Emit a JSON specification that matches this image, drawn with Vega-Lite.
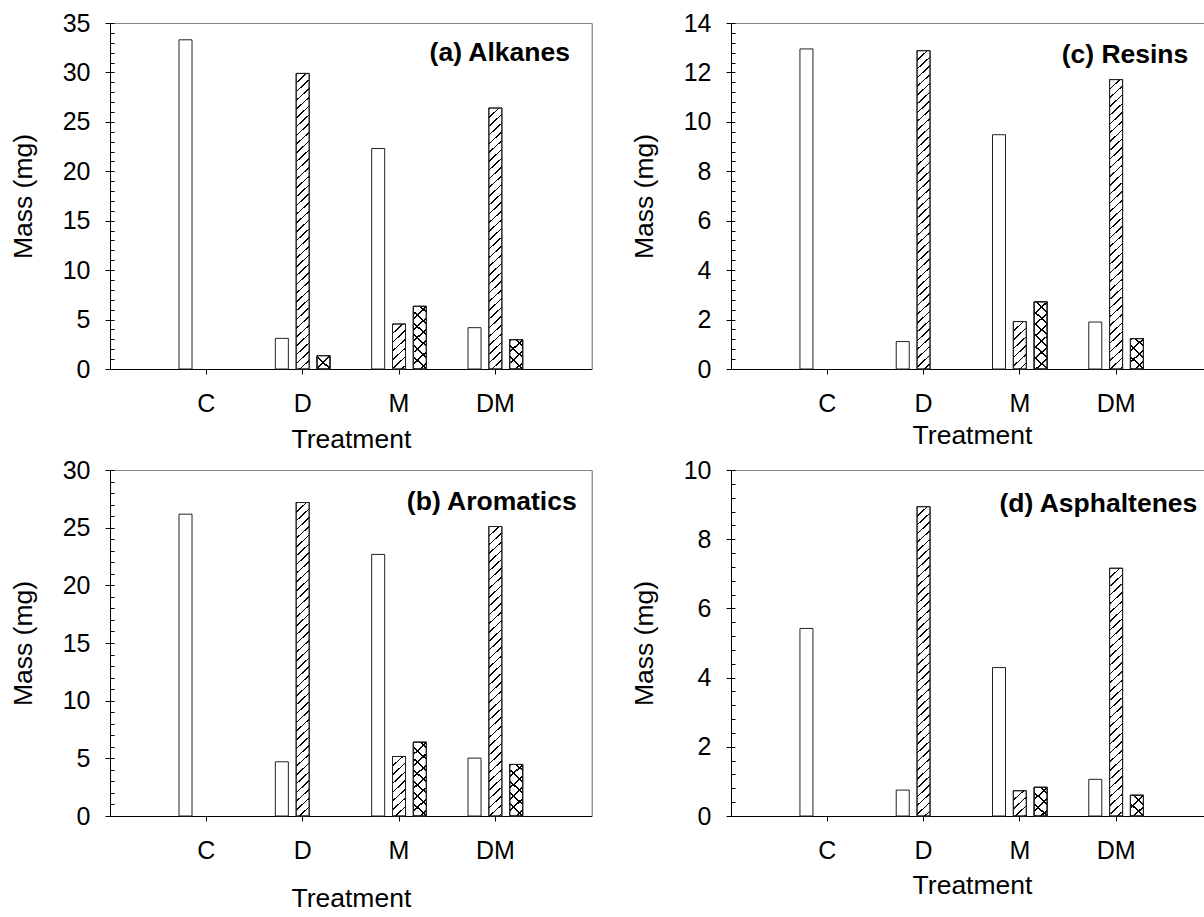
{
  "$schema": "https://vega.github.io/schema/vega-lite/v6.json",
  "background": "white",
  "padding": {"left": 10, "top": 11, "right": 0, "bottom": 0},
  "config": {
    "font": "Liberation Sans",
    "view": {"stroke": null},
    "axis": {"grid": false, "domainColor": "black", "tickColor": "black", "labelColor": "black", "titleColor": "black", "titleFontWeight": "normal", "domainWidth": 1, "tickWidth": 1},
    "title": {"color": "black"}
  },
  "params": [
    {"name": "hatchStops", "value": [
      {"offset":0,"color":"#000"},{"offset":0.0035,"color":"#000"},{"offset":0.0035,"color":"rgba(0,0,0,0)"},{"offset":0.02,"color":"rgba(0,0,0,0)"},
      {"offset":0.02,"color":"#000"},{"offset":0.0235,"color":"#000"},{"offset":0.0235,"color":"rgba(0,0,0,0)"},{"offset":0.04,"color":"rgba(0,0,0,0)"},
      {"offset":0.04,"color":"#000"},{"offset":0.0435,"color":"#000"},{"offset":0.0435,"color":"rgba(0,0,0,0)"},{"offset":0.06,"color":"rgba(0,0,0,0)"},
      {"offset":0.06,"color":"#000"},{"offset":0.0635,"color":"#000"},{"offset":0.0635,"color":"rgba(0,0,0,0)"},{"offset":0.08,"color":"rgba(0,0,0,0)"},
      {"offset":0.08,"color":"#000"},{"offset":0.0835,"color":"#000"},{"offset":0.0835,"color":"rgba(0,0,0,0)"},{"offset":0.1,"color":"rgba(0,0,0,0)"},
      {"offset":0.1,"color":"#000"},{"offset":0.1035,"color":"#000"},{"offset":0.1035,"color":"rgba(0,0,0,0)"},{"offset":0.12,"color":"rgba(0,0,0,0)"},
      {"offset":0.12,"color":"#000"},{"offset":0.1235,"color":"#000"},{"offset":0.1235,"color":"rgba(0,0,0,0)"},{"offset":0.14,"color":"rgba(0,0,0,0)"},
      {"offset":0.14,"color":"#000"},{"offset":0.1435,"color":"#000"},{"offset":0.1435,"color":"rgba(0,0,0,0)"},{"offset":0.16,"color":"rgba(0,0,0,0)"},
      {"offset":0.16,"color":"#000"},{"offset":0.1635,"color":"#000"},{"offset":0.1635,"color":"rgba(0,0,0,0)"},{"offset":0.18,"color":"rgba(0,0,0,0)"},
      {"offset":0.18,"color":"#000"},{"offset":0.1835,"color":"#000"},{"offset":0.1835,"color":"rgba(0,0,0,0)"},{"offset":0.2,"color":"rgba(0,0,0,0)"},
      {"offset":0.2,"color":"#000"},{"offset":0.2035,"color":"#000"},{"offset":0.2035,"color":"rgba(0,0,0,0)"},{"offset":0.22,"color":"rgba(0,0,0,0)"},
      {"offset":0.22,"color":"#000"},{"offset":0.2235,"color":"#000"},{"offset":0.2235,"color":"rgba(0,0,0,0)"},{"offset":0.24,"color":"rgba(0,0,0,0)"},
      {"offset":0.24,"color":"#000"},{"offset":0.2435,"color":"#000"},{"offset":0.2435,"color":"rgba(0,0,0,0)"},{"offset":0.26,"color":"rgba(0,0,0,0)"},
      {"offset":0.26,"color":"#000"},{"offset":0.2635,"color":"#000"},{"offset":0.2635,"color":"rgba(0,0,0,0)"},{"offset":0.28,"color":"rgba(0,0,0,0)"},
      {"offset":0.28,"color":"#000"},{"offset":0.2835,"color":"#000"},{"offset":0.2835,"color":"rgba(0,0,0,0)"},{"offset":0.3,"color":"rgba(0,0,0,0)"},
      {"offset":0.3,"color":"#000"},{"offset":0.3035,"color":"#000"},{"offset":0.3035,"color":"rgba(0,0,0,0)"},{"offset":0.32,"color":"rgba(0,0,0,0)"},
      {"offset":0.32,"color":"#000"},{"offset":0.3235,"color":"#000"},{"offset":0.3235,"color":"rgba(0,0,0,0)"},{"offset":0.34,"color":"rgba(0,0,0,0)"},
      {"offset":0.34,"color":"#000"},{"offset":0.3435,"color":"#000"},{"offset":0.3435,"color":"rgba(0,0,0,0)"},{"offset":0.36,"color":"rgba(0,0,0,0)"},
      {"offset":0.36,"color":"#000"},{"offset":0.3635,"color":"#000"},{"offset":0.3635,"color":"rgba(0,0,0,0)"},{"offset":0.38,"color":"rgba(0,0,0,0)"},
      {"offset":0.38,"color":"#000"},{"offset":0.3835,"color":"#000"},{"offset":0.3835,"color":"rgba(0,0,0,0)"},{"offset":0.4,"color":"rgba(0,0,0,0)"},
      {"offset":0.4,"color":"#000"},{"offset":0.4035,"color":"#000"},{"offset":0.4035,"color":"rgba(0,0,0,0)"},{"offset":0.42,"color":"rgba(0,0,0,0)"},
      {"offset":0.42,"color":"#000"},{"offset":0.4235,"color":"#000"},{"offset":0.4235,"color":"rgba(0,0,0,0)"},{"offset":0.44,"color":"rgba(0,0,0,0)"},
      {"offset":0.44,"color":"#000"},{"offset":0.4435,"color":"#000"},{"offset":0.4435,"color":"rgba(0,0,0,0)"},{"offset":0.46,"color":"rgba(0,0,0,0)"},
      {"offset":0.46,"color":"#000"},{"offset":0.4635,"color":"#000"},{"offset":0.4635,"color":"rgba(0,0,0,0)"},{"offset":0.48,"color":"rgba(0,0,0,0)"},
      {"offset":0.48,"color":"#000"},{"offset":0.4835,"color":"#000"},{"offset":0.4835,"color":"rgba(0,0,0,0)"},{"offset":0.5,"color":"rgba(0,0,0,0)"},
      {"offset":0.5,"color":"#000"},{"offset":0.5035,"color":"#000"},{"offset":0.5035,"color":"rgba(0,0,0,0)"},{"offset":0.52,"color":"rgba(0,0,0,0)"},
      {"offset":0.52,"color":"#000"},{"offset":0.5235,"color":"#000"},{"offset":0.5235,"color":"rgba(0,0,0,0)"},{"offset":0.54,"color":"rgba(0,0,0,0)"},
      {"offset":0.54,"color":"#000"},{"offset":0.5435,"color":"#000"},{"offset":0.5435,"color":"rgba(0,0,0,0)"},{"offset":0.56,"color":"rgba(0,0,0,0)"},
      {"offset":0.56,"color":"#000"},{"offset":0.5635,"color":"#000"},{"offset":0.5635,"color":"rgba(0,0,0,0)"},{"offset":0.58,"color":"rgba(0,0,0,0)"},
      {"offset":0.58,"color":"#000"},{"offset":0.5835,"color":"#000"},{"offset":0.5835,"color":"rgba(0,0,0,0)"},{"offset":0.6,"color":"rgba(0,0,0,0)"},
      {"offset":0.6,"color":"#000"},{"offset":0.6035,"color":"#000"},{"offset":0.6035,"color":"rgba(0,0,0,0)"},{"offset":0.62,"color":"rgba(0,0,0,0)"},
      {"offset":0.62,"color":"#000"},{"offset":0.6235,"color":"#000"},{"offset":0.6235,"color":"rgba(0,0,0,0)"},{"offset":0.64,"color":"rgba(0,0,0,0)"},
      {"offset":0.64,"color":"#000"},{"offset":0.6435,"color":"#000"},{"offset":0.6435,"color":"rgba(0,0,0,0)"},{"offset":0.66,"color":"rgba(0,0,0,0)"},
      {"offset":0.66,"color":"#000"},{"offset":0.6635,"color":"#000"},{"offset":0.6635,"color":"rgba(0,0,0,0)"},{"offset":0.68,"color":"rgba(0,0,0,0)"},
      {"offset":0.68,"color":"#000"},{"offset":0.6835,"color":"#000"},{"offset":0.6835,"color":"rgba(0,0,0,0)"},{"offset":0.7,"color":"rgba(0,0,0,0)"},
      {"offset":0.7,"color":"#000"},{"offset":0.7035,"color":"#000"},{"offset":0.7035,"color":"rgba(0,0,0,0)"},{"offset":0.72,"color":"rgba(0,0,0,0)"},
      {"offset":0.72,"color":"#000"},{"offset":0.7235,"color":"#000"},{"offset":0.7235,"color":"rgba(0,0,0,0)"},{"offset":0.74,"color":"rgba(0,0,0,0)"},
      {"offset":0.74,"color":"#000"},{"offset":0.7435,"color":"#000"},{"offset":0.7435,"color":"rgba(0,0,0,0)"},{"offset":0.76,"color":"rgba(0,0,0,0)"},
      {"offset":0.76,"color":"#000"},{"offset":0.7635,"color":"#000"},{"offset":0.7635,"color":"rgba(0,0,0,0)"},{"offset":0.78,"color":"rgba(0,0,0,0)"},
      {"offset":0.78,"color":"#000"},{"offset":0.7835,"color":"#000"},{"offset":0.7835,"color":"rgba(0,0,0,0)"},{"offset":0.8,"color":"rgba(0,0,0,0)"},
      {"offset":0.8,"color":"#000"},{"offset":0.8035,"color":"#000"},{"offset":0.8035,"color":"rgba(0,0,0,0)"},{"offset":0.82,"color":"rgba(0,0,0,0)"},
      {"offset":0.82,"color":"#000"},{"offset":0.8235,"color":"#000"},{"offset":0.8235,"color":"rgba(0,0,0,0)"},{"offset":0.84,"color":"rgba(0,0,0,0)"},
      {"offset":0.84,"color":"#000"},{"offset":0.8435,"color":"#000"},{"offset":0.8435,"color":"rgba(0,0,0,0)"},{"offset":0.86,"color":"rgba(0,0,0,0)"},
      {"offset":0.86,"color":"#000"},{"offset":0.8635,"color":"#000"},{"offset":0.8635,"color":"rgba(0,0,0,0)"},{"offset":0.88,"color":"rgba(0,0,0,0)"},
      {"offset":0.88,"color":"#000"},{"offset":0.8835,"color":"#000"},{"offset":0.8835,"color":"rgba(0,0,0,0)"},{"offset":0.9,"color":"rgba(0,0,0,0)"},
      {"offset":0.9,"color":"#000"},{"offset":0.9035,"color":"#000"},{"offset":0.9035,"color":"rgba(0,0,0,0)"},{"offset":0.92,"color":"rgba(0,0,0,0)"},
      {"offset":0.92,"color":"#000"},{"offset":0.9235,"color":"#000"},{"offset":0.9235,"color":"rgba(0,0,0,0)"},{"offset":0.94,"color":"rgba(0,0,0,0)"},
      {"offset":0.94,"color":"#000"},{"offset":0.9435,"color":"#000"},{"offset":0.9435,"color":"rgba(0,0,0,0)"},{"offset":0.96,"color":"rgba(0,0,0,0)"},
      {"offset":0.96,"color":"#000"},{"offset":0.9635,"color":"#000"},{"offset":0.9635,"color":"rgba(0,0,0,0)"},{"offset":0.98,"color":"rgba(0,0,0,0)"},
      {"offset":0.98,"color":"#000"},{"offset":0.9835,"color":"#000"},{"offset":0.9835,"color":"rgba(0,0,0,0)"},{"offset":1,"color":"rgba(0,0,0,0)"}
    ]}
  ],
  "data": {"values": [
    {"fraction": "Alkanes", "treatment": "C", "series": "plain", "mass": 33.3},
    {"fraction": "Alkanes", "treatment": "D", "series": "plain", "mass": 3.1},
    {"fraction": "Alkanes", "treatment": "D", "series": "hatched", "mass": 29.9},
    {"fraction": "Alkanes", "treatment": "D", "series": "cross", "mass": 1.35},
    {"fraction": "Alkanes", "treatment": "M", "series": "plain", "mass": 22.3},
    {"fraction": "Alkanes", "treatment": "M", "series": "hatched", "mass": 4.55},
    {"fraction": "Alkanes", "treatment": "M", "series": "cross", "mass": 6.34},
    {"fraction": "Alkanes", "treatment": "DM", "series": "plain", "mass": 4.18},
    {"fraction": "Alkanes", "treatment": "DM", "series": "hatched", "mass": 26.4},
    {"fraction": "Alkanes", "treatment": "DM", "series": "cross", "mass": 2.97},
    {"fraction": "Aromatics", "treatment": "C", "series": "plain", "mass": 26.17},
    {"fraction": "Aromatics", "treatment": "D", "series": "plain", "mass": 4.7},
    {"fraction": "Aromatics", "treatment": "D", "series": "hatched", "mass": 27.18},
    {"fraction": "Aromatics", "treatment": "M", "series": "plain", "mass": 22.68},
    {"fraction": "Aromatics", "treatment": "M", "series": "hatched", "mass": 5.16},
    {"fraction": "Aromatics", "treatment": "M", "series": "cross", "mass": 6.4},
    {"fraction": "Aromatics", "treatment": "DM", "series": "plain", "mass": 5.02},
    {"fraction": "Aromatics", "treatment": "DM", "series": "hatched", "mass": 25.1},
    {"fraction": "Aromatics", "treatment": "DM", "series": "cross", "mass": 4.47},
    {"fraction": "Resins", "treatment": "C", "series": "plain", "mass": 12.95},
    {"fraction": "Resins", "treatment": "D", "series": "plain", "mass": 1.11},
    {"fraction": "Resins", "treatment": "D", "series": "hatched", "mass": 12.88},
    {"fraction": "Resins", "treatment": "M", "series": "plain", "mass": 9.48},
    {"fraction": "Resins", "treatment": "M", "series": "hatched", "mass": 1.92},
    {"fraction": "Resins", "treatment": "M", "series": "cross", "mass": 2.72},
    {"fraction": "Resins", "treatment": "DM", "series": "plain", "mass": 1.9},
    {"fraction": "Resins", "treatment": "DM", "series": "hatched", "mass": 11.71},
    {"fraction": "Resins", "treatment": "DM", "series": "cross", "mass": 1.23},
    {"fraction": "Asphaltenes", "treatment": "C", "series": "plain", "mass": 5.42},
    {"fraction": "Asphaltenes", "treatment": "D", "series": "plain", "mass": 0.75},
    {"fraction": "Asphaltenes", "treatment": "D", "series": "hatched", "mass": 8.94},
    {"fraction": "Asphaltenes", "treatment": "M", "series": "plain", "mass": 4.29},
    {"fraction": "Asphaltenes", "treatment": "M", "series": "hatched", "mass": 0.73},
    {"fraction": "Asphaltenes", "treatment": "M", "series": "cross", "mass": 0.83},
    {"fraction": "Asphaltenes", "treatment": "DM", "series": "plain", "mass": 1.06},
    {"fraction": "Asphaltenes", "treatment": "DM", "series": "hatched", "mass": 7.16},
    {"fraction": "Asphaltenes", "treatment": "DM", "series": "cross", "mass": 0.6}
  ]},
  "columns": 2,
  "spacing": {"row": 5, "column": 39},
  "resolve": {"scale": {"xOffset": "independent"}},
  "concat": [
    {
      "width": 481.7, "height": 346,
      "title": {"text": "(a) Alkanes", "anchor": "end", "frame": "group", "orient": "top", "offset": 0, "fontSize": 26.5, "fontWeight": "bold", "baseline": "middle", "dx": -21.7, "dy": 68},
      "transform": [{"filter": "datum.fraction === 'Alkanes'"}],
      "layer": [
        {
          "mark": {"type": "bar", "fill": "white", "stroke": "#222", "strokeWidth": 1},
          "encoding": {
            "x": {"field": "treatment", "type": "nominal", "scale": {"domain": ["C", "D", "M", "DM"], "paddingInner": 0, "paddingOuter": 0.5},
                  "axis": {"title": "Treatment", "labelAngle": 0, "labelFontSize": 25, "titleFontSize": 26.5, "tickSize": 5, "labelPadding": 17, "titlePadding": 10}},
            "xOffset": {"field": "series", "type": "nominal", "scale": {"domain": ["plain", "hatched", "cross"], "paddingInner": 0.375, "paddingOuter": 1.1875}},
            "y": {"field": "mass", "type": "quantitative", "scale": {"domain": [0, 35], "nice": false},
                  "axis": {"title": "Mass (mg)", "values": [0, 5, 10, 15, 20, 25, 30, 35], "tickSize": 5, "labelPadding": 15, "labelFontSize": 25, "titleFontSize": 26.5, "titlePadding": 25}}
          }
        },
        {
          "transform": [{"filter": "datum.series !== 'plain'"}],
          "mark": {"type": "bar", "stroke": "#222", "strokeWidth": 1,
                   "fill": {"expr": "{gradient: 'linear', x1: 0, y1: 0, x2: 12.04 * (datum.series === 'cross' ? 565.7 : 438.4) / (144.96 + pow(datum.mass * 9.8857, 2)), y2: datum.mass * 9.8857 * (datum.series === 'cross' ? 565.7 : 438.4) / (144.96 + pow(datum.mass * 9.8857, 2)), stops: hatchStops}"}},
          "encoding": {
            "x": {"field": "treatment", "type": "nominal", "scale": {"domain": ["C", "D", "M", "DM"], "paddingInner": 0, "paddingOuter": 0.5},
                  "axis": {"orient": "top", "title": null, "labels": false, "ticks": false, "domainColor": "#888"}},
            "xOffset": {"field": "series", "type": "nominal", "scale": {"domain": ["plain", "hatched", "cross"], "paddingInner": 0.375, "paddingOuter": 1.1875}},
            "y": {"field": "mass", "type": "quantitative", "scale": {"domain": [0, 35], "nice": false},
                  "axis": {"orient": "left", "title": null, "labels": false, "domain": false, "tickSize": -4,
                           "values": [0,1,2,3,4,5,6,7,8,9,10,11,12,13,14,15,16,17,18,19,20,21,22,23,24,25,26,27,28,29,30,31,32,33,34,35]}}
          }
        },
        {
          "transform": [{"filter": "datum.series === 'cross'"}],
          "mark": {"type": "bar", "stroke": "#222", "strokeWidth": 1,
                   "fill": {"expr": "{gradient: 'linear', x1: 0, y1: 1, x2: 12.04 * 565.7 / (144.96 + pow(datum.mass * 9.8857, 2)), y2: 1 - datum.mass * 9.8857 * 565.7 / (144.96 + pow(datum.mass * 9.8857, 2)), stops: hatchStops}"}},
          "encoding": {
            "x": {"field": "treatment", "type": "nominal", "scale": {"domain": ["C", "D", "M", "DM"], "paddingInner": 0, "paddingOuter": 0.5}, "axis": null},
            "xOffset": {"field": "series", "type": "nominal", "scale": {"domain": ["plain", "hatched", "cross"], "paddingInner": 0.375, "paddingOuter": 1.1875}},
            "y": {"field": "mass", "type": "quantitative", "scale": {"domain": [0, 35], "nice": false},
                  "axis": {"orient": "right", "title": null, "labels": false, "ticks": false, "domainColor": "#666"}}
          }
        }
      ],
      "resolve": {"axis": {"x": "independent", "y": "independent"}}
    },
    {
      "width": 473, "height": 346,
      "title": {"text": "(c) Resins", "anchor": "end", "frame": "group", "orient": "top", "offset": 0, "fontSize": 26.5, "fontWeight": "bold", "baseline": "middle", "dx": -15.7, "dy": 70},
      "transform": [{"filter": "datum.fraction === 'Resins'"}],
      "layer": [
        {
          "mark": {"type": "bar", "fill": "white", "stroke": "#222", "strokeWidth": 1},
          "encoding": {
            "x": {"field": "treatment", "type": "nominal", "scale": {"domain": ["C", "D", "M", "DM"], "paddingInner": 0, "paddingOuter": 0.4565, "align": 0.5476},
                  "axis": {"title": "Treatment", "titleX": 241, "labelAngle": 0, "labelFontSize": 25, "titleFontSize": 26.5, "tickSize": 5, "labelPadding": 17, "titlePadding": 6}},
            "xOffset": {"field": "series", "type": "nominal", "scale": {"domain": ["plain", "hatched", "cross"], "paddingInner": 0.375, "paddingOuter": 1.1875}},
            "y": {"field": "mass", "type": "quantitative", "scale": {"domain": [0, 14], "nice": false},
                  "axis": {"title": "Mass (mg)", "values": [0, 2, 4, 6, 8, 10, 12, 14], "tickSize": 5, "labelPadding": 15, "labelFontSize": 25, "titleFontSize": 26.5, "titlePadding": 25}}
          }
        },
        {
          "transform": [{"filter": "datum.series !== 'plain'"}],
          "mark": {"type": "bar", "stroke": "#222", "strokeWidth": 1,
                   "fill": {"expr": "{gradient: 'linear', x1: 0, y1: 0, x2: 12.04 * (datum.series === 'cross' ? 565.7 : 438.4) / (144.96 + pow(datum.mass * 24.714, 2)), y2: datum.mass * 24.714 * (datum.series === 'cross' ? 565.7 : 438.4) / (144.96 + pow(datum.mass * 24.714, 2)), stops: hatchStops}"}},
          "encoding": {
            "x": {"field": "treatment", "type": "nominal", "scale": {"domain": ["C", "D", "M", "DM"], "paddingInner": 0, "paddingOuter": 0.4565, "align": 0.5476},
                  "axis": {"orient": "top", "title": null, "labels": false, "ticks": false, "domainColor": "#888"}},
            "xOffset": {"field": "series", "type": "nominal", "scale": {"domain": ["plain", "hatched", "cross"], "paddingInner": 0.375, "paddingOuter": 1.1875}},
            "y": {"field": "mass", "type": "quantitative", "scale": {"domain": [0, 14], "nice": false},
                  "axis": {"orient": "left", "title": null, "labels": false, "domain": false, "tickSize": -4,
                           "values": [0,0.4,0.8,1.2,1.6,2,2.4,2.8,3.2,3.6,4,4.4,4.8,5.2,5.6,6,6.4,6.8,7.2,7.6,8,8.4,8.8,9.2,9.6,10,10.4,10.8,11.2,11.6,12,12.4,12.8,13.2,13.6,14]}}
          }
        },
        {
          "transform": [{"filter": "datum.series === 'cross'"}],
          "mark": {"type": "bar", "stroke": "#222", "strokeWidth": 1,
                   "fill": {"expr": "{gradient: 'linear', x1: 0, y1: 1, x2: 12.04 * 565.7 / (144.96 + pow(datum.mass * 24.714, 2)), y2: 1 - datum.mass * 24.714 * 565.7 / (144.96 + pow(datum.mass * 24.714, 2)), stops: hatchStops}"}},
          "encoding": {
            "x": {"field": "treatment", "type": "nominal", "scale": {"domain": ["C", "D", "M", "DM"], "paddingInner": 0, "paddingOuter": 0.4565, "align": 0.5476}, "axis": null},
            "xOffset": {"field": "series", "type": "nominal", "scale": {"domain": ["plain", "hatched", "cross"], "paddingInner": 0.375, "paddingOuter": 1.1875}},
            "y": {"field": "mass", "type": "quantitative", "scale": {"domain": [0, 14], "nice": false}, "axis": null}
          }
        }
      ],
      "resolve": {"axis": {"x": "independent", "y": "independent"}}
    },
    {
      "width": 481.7, "height": 346,
      "title": {"text": "(b) Aromatics", "anchor": "end", "frame": "group", "orient": "top", "offset": 0, "fontSize": 26.5, "fontWeight": "bold", "baseline": "middle", "dx": -15, "dy": 70},
      "transform": [{"filter": "datum.fraction === 'Aromatics'"}],
      "layer": [
        {
          "mark": {"type": "bar", "fill": "white", "stroke": "#222", "strokeWidth": 1},
          "encoding": {
            "x": {"field": "treatment", "type": "nominal", "scale": {"domain": ["C", "D", "M", "DM"], "paddingInner": 0, "paddingOuter": 0.5},
                  "axis": {"title": "Treatment", "labelAngle": 0, "labelFontSize": 25, "titleFontSize": 26.5, "tickSize": 5, "labelPadding": 17, "titlePadding": 22}},
            "xOffset": {"field": "series", "type": "nominal", "scale": {"domain": ["plain", "hatched", "cross"], "paddingInner": 0.375, "paddingOuter": 1.1875}},
            "y": {"field": "mass", "type": "quantitative", "scale": {"domain": [0, 30], "nice": false},
                  "axis": {"title": "Mass (mg)", "values": [0, 5, 10, 15, 20, 25, 30], "tickSize": 5, "labelPadding": 15, "labelFontSize": 25, "titleFontSize": 26.5, "titlePadding": 25}}
          }
        },
        {
          "transform": [{"filter": "datum.series !== 'plain'"}],
          "mark": {"type": "bar", "stroke": "#222", "strokeWidth": 1,
                   "fill": {"expr": "{gradient: 'linear', x1: 0, y1: 0, x2: 12.04 * (datum.series === 'cross' ? 565.7 : 438.4) / (144.96 + pow(datum.mass * 11.533, 2)), y2: datum.mass * 11.533 * (datum.series === 'cross' ? 565.7 : 438.4) / (144.96 + pow(datum.mass * 11.533, 2)), stops: hatchStops}"}},
          "encoding": {
            "x": {"field": "treatment", "type": "nominal", "scale": {"domain": ["C", "D", "M", "DM"], "paddingInner": 0, "paddingOuter": 0.5},
                  "axis": {"orient": "top", "title": null, "labels": false, "ticks": false, "domainColor": "#888"}},
            "xOffset": {"field": "series", "type": "nominal", "scale": {"domain": ["plain", "hatched", "cross"], "paddingInner": 0.375, "paddingOuter": 1.1875}},
            "y": {"field": "mass", "type": "quantitative", "scale": {"domain": [0, 30], "nice": false},
                  "axis": {"orient": "left", "title": null, "labels": false, "domain": false, "tickSize": -4,
                           "values": [0,1,2,3,4,5,6,7,8,9,10,11,12,13,14,15,16,17,18,19,20,21,22,23,24,25,26,27,28,29,30]}}
          }
        },
        {
          "transform": [{"filter": "datum.series === 'cross'"}],
          "mark": {"type": "bar", "stroke": "#222", "strokeWidth": 1,
                   "fill": {"expr": "{gradient: 'linear', x1: 0, y1: 1, x2: 12.04 * 565.7 / (144.96 + pow(datum.mass * 11.533, 2)), y2: 1 - datum.mass * 11.533 * 565.7 / (144.96 + pow(datum.mass * 11.533, 2)), stops: hatchStops}"}},
          "encoding": {
            "x": {"field": "treatment", "type": "nominal", "scale": {"domain": ["C", "D", "M", "DM"], "paddingInner": 0, "paddingOuter": 0.5}, "axis": null},
            "xOffset": {"field": "series", "type": "nominal", "scale": {"domain": ["plain", "hatched", "cross"], "paddingInner": 0.375, "paddingOuter": 1.1875}},
            "y": {"field": "mass", "type": "quantitative", "scale": {"domain": [0, 30], "nice": false},
                  "axis": {"orient": "right", "title": null, "labels": false, "ticks": false, "domainColor": "#666"}}
          }
        }
      ],
      "resolve": {"axis": {"x": "independent", "y": "independent"}}
    },
    {
      "width": 473, "height": 346,
      "title": {"text": "(d) Asphaltenes", "anchor": "end", "frame": "group", "orient": "top", "offset": 0, "fontSize": 26.5, "fontWeight": "bold", "baseline": "middle", "dx": -6.7, "dy": 72},
      "transform": [{"filter": "datum.fraction === 'Asphaltenes'"}],
      "layer": [
        {
          "mark": {"type": "bar", "fill": "white", "stroke": "#222", "strokeWidth": 1},
          "encoding": {
            "x": {"field": "treatment", "type": "nominal", "scale": {"domain": ["C", "D", "M", "DM"], "paddingInner": 0, "paddingOuter": 0.4565, "align": 0.5476},
                  "axis": {"title": "Treatment", "titleX": 241, "labelAngle": 0, "labelFontSize": 25, "titleFontSize": 26.5, "tickSize": 5, "labelPadding": 17, "titlePadding": 9}},
            "xOffset": {"field": "series", "type": "nominal", "scale": {"domain": ["plain", "hatched", "cross"], "paddingInner": 0.375, "paddingOuter": 1.1875}},
            "y": {"field": "mass", "type": "quantitative", "scale": {"domain": [0, 10], "nice": false},
                  "axis": {"title": "Mass (mg)", "values": [0, 2, 4, 6, 8, 10], "tickSize": 5, "labelPadding": 15, "labelFontSize": 25, "titleFontSize": 26.5, "titlePadding": 25}}
          }
        },
        {
          "transform": [{"filter": "datum.series !== 'plain'"}],
          "mark": {"type": "bar", "stroke": "#222", "strokeWidth": 1,
                   "fill": {"expr": "{gradient: 'linear', x1: 0, y1: 0, x2: 12.04 * (datum.series === 'cross' ? 565.7 : 438.4) / (144.96 + pow(datum.mass * 34.6, 2)), y2: datum.mass * 34.6 * (datum.series === 'cross' ? 565.7 : 438.4) / (144.96 + pow(datum.mass * 34.6, 2)), stops: hatchStops}"}},
          "encoding": {
            "x": {"field": "treatment", "type": "nominal", "scale": {"domain": ["C", "D", "M", "DM"], "paddingInner": 0, "paddingOuter": 0.4565, "align": 0.5476},
                  "axis": {"orient": "top", "title": null, "labels": false, "ticks": false, "domainColor": "#888"}},
            "xOffset": {"field": "series", "type": "nominal", "scale": {"domain": ["plain", "hatched", "cross"], "paddingInner": 0.375, "paddingOuter": 1.1875}},
            "y": {"field": "mass", "type": "quantitative", "scale": {"domain": [0, 10], "nice": false},
                  "axis": {"orient": "left", "title": null, "labels": false, "domain": false, "tickSize": -4,
                           "values": [0,0.4,0.8,1.2,1.6,2,2.4,2.8,3.2,3.6,4,4.4,4.8,5.2,5.6,6,6.4,6.8,7.2,7.6,8,8.4,8.8,9.2,9.6,10]}}
          }
        },
        {
          "transform": [{"filter": "datum.series === 'cross'"}],
          "mark": {"type": "bar", "stroke": "#222", "strokeWidth": 1,
                   "fill": {"expr": "{gradient: 'linear', x1: 0, y1: 1, x2: 12.04 * 565.7 / (144.96 + pow(datum.mass * 34.6, 2)), y2: 1 - datum.mass * 34.6 * 565.7 / (144.96 + pow(datum.mass * 34.6, 2)), stops: hatchStops}"}},
          "encoding": {
            "x": {"field": "treatment", "type": "nominal", "scale": {"domain": ["C", "D", "M", "DM"], "paddingInner": 0, "paddingOuter": 0.4565, "align": 0.5476}, "axis": null},
            "xOffset": {"field": "series", "type": "nominal", "scale": {"domain": ["plain", "hatched", "cross"], "paddingInner": 0.375, "paddingOuter": 1.1875}},
            "y": {"field": "mass", "type": "quantitative", "scale": {"domain": [0, 10], "nice": false}, "axis": null}
          }
        }
      ],
      "resolve": {"axis": {"x": "independent", "y": "independent"}}
    }
  ]
}
